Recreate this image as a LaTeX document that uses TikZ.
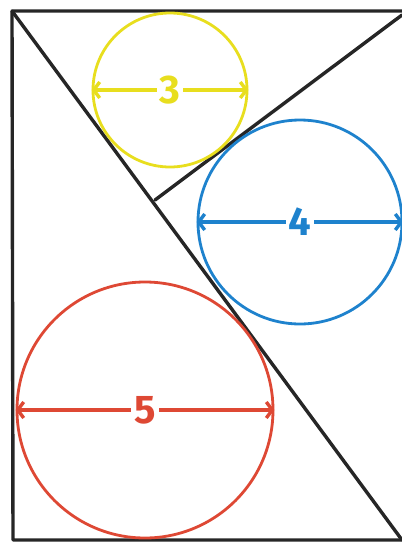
\documentclass[tikz,border=0pt]{standalone}
\usepackage{fontspec}
\setmainfont{Fira Sans}
\usetikzlibrary{arrows.meta}
\definecolor{cyel}{RGB}{232,222,30}
\definecolor{cblue}{RGB}{30,130,205}
\definecolor{cred}{RGB}{222,72,52}
\tikzset{
  edge/.style={line width=3.4pt, black!85, line cap=round, line join=round},
  ring/.style={circle, draw, line width=2.8pt, inner sep=0pt},
  dim/.style={line width=3.4pt, {Straight Barb[length=6pt,width=16pt]}-{Straight Barb[length=6pt,width=16pt]}},
  num/.style={fill=white, inner sep=3pt, font=\fontsize{40}{40}\selectfont\bfseries}
}
\begin{document}
\begin{tikzpicture}[x=1pt,y=-1pt]
\useasboundingbox (0,0) rectangle (402,542);
\coordinate (TL) at (12,11);
\coordinate (BL) at (13,540);
\coordinate (TR) at (404,11);
\coordinate (BR) at (404,540);
\coordinate (TRd) at (402,15);
\coordinate (BRd) at (402,540);
\coordinate (M) at (155,200);
\draw[edge] (TR) -- (TL) -- (BL) -- (BR);
\draw[edge] (TL) -- (BRd);
\draw[edge] (TRd) -- (M);
% circles
\node[ring, draw=cyel, minimum size=154pt] (c3) at (170,90) {};
\node[ring, draw=cblue, minimum size=204pt] (c4) at (300,222) {};
\node[ring, draw=cred, minimum size=256pt] (c5) at (145,410) {};
\draw[dim, cyel] (c3.west) -- (c3.east);
\draw[dim, cblue] (c4.west) -- (c4.east);
\draw[dim, cred] (c5.west) -- (c5.east);
\node[num, text=cyel] (t3) at (c3.center) {3};
\node[num, text=cblue] (t4) at (c4.center) {4};
\node[num, text=cred] (t5) at (c5.center) {5};
\end{tikzpicture}
\end{document}
